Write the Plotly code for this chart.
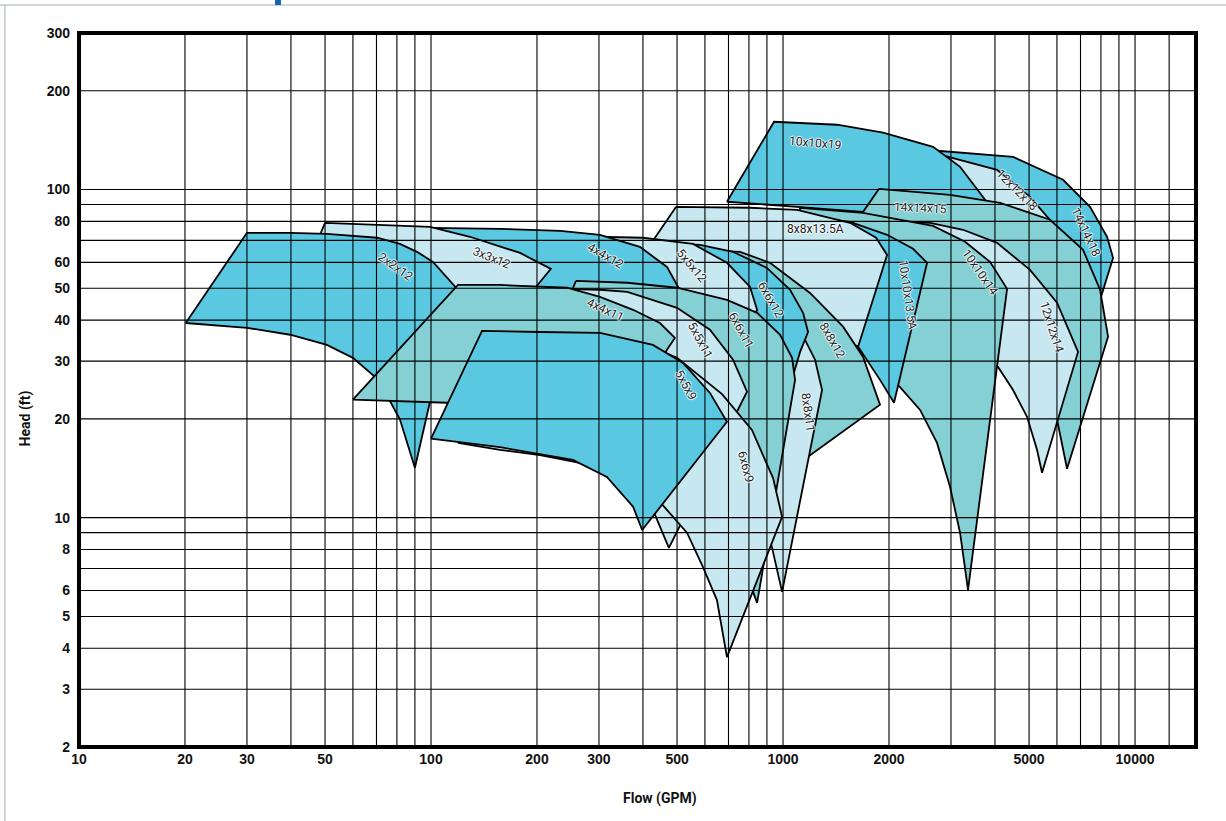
import math
import plotly.graph_objects as go

BLUE = "#5ac8e1"
LIGHT = "#c8e8f1"
TEAL = "#84d0d4"

# ---- pump operating envelopes (flow GPM, head ft), listed back to front ----
q_14x14x18 = [2532, 4503, 6244, 7450, 8328, 8661, 7955, 7211, 4136, 2150]
h_14x14x18 = [132.2, 125.8, 107.1, 88.6, 71.8, 61.9, 46.1, 34.8, 46.1, 80.9]

q_12x12x18 = [2532, 4055, 5031, 5735, 6410, 6843, 5372, 2982]
h_12x12x18 = [131.3, 114.8, 95.0, 80.9, 70.3, 61.9, 37.4, 56.9]

q_10x10x19 = [693, 943, 1424, 1924, 2668, 3184, 3749, 4136, 2982, 1688, 1096]
h_10x10x19 = [91.8, 160.9, 157.6, 149, 135, 117.3, 93.1, 75.4, 76.4, 85.5, 88.6]

q_14x14x15 = [1874, 2982, 4136, 5735, 7117, 7955, 8383, 6410, 6004, 5372, 4416, 3184, 2150, 1655, 1688]
h_14x14x15 = [100.5, 96.4, 91.1, 80.9, 65.5, 49.5, 35.6, 14.1, 19.9, 25.4, 33.6, 44.5, 61.1, 70.3, 85.5]

q_12x12x14 = [1886, 2616, 3246, 4055, 5031, 6004, 6888, 5443, 5267, 4934, 4503, 4082, 3184, 2150]
h_12x12x14 = [79.7, 79.2, 75.4, 68.8, 56.9, 45.2, 32.0, 13.7, 16.1, 20.3, 24.5, 28.8, 34.8, 46.1]

q_10x10x14 = [1118, 1688, 2668, 3289, 3873, 4330, 3354, 3184, 2982, 2738, 2451, 2150, 1886, 1688, 1360, 1047]
h_10x10x14 = [88.0, 84.9, 77.5, 69.3, 60.2, 49.8, 6.02, 8.98, 12.4, 16.9, 21.3, 25.0, 28.6, 31.8, 40.1, 53.1]

q_10x10x135A = [1047, 1550, 1975, 2341, 2566, 2067, 1886, 1732, 1623, 1360, 1047]
h_10x10x135A = [83.8, 79.7, 72.8, 66.0, 59.8, 22.4, 26.3, 30.3, 33.6, 40.1, 49.5]

q_8x8x135A = [497, 806, 1096, 1550, 1838, 1975, 1634, 1452, 1118, 860, 581, 419]
h_8x8x135A = [88.6, 88.0, 86.7, 79.2, 71.3, 63.2, 33.2, 35.3, 46.1, 53.1, 60.2, 67.8]

q_8x8x12 = [581, 755, 918, 1193, 1481, 1688, 1886, 1178, 1047, 918, 755, 581, 510]
h_8x8x12 = [65.5, 64.6, 59.8, 48.4, 38.2, 30.9, 22.1, 15.3, 14.0, 17.3, 26.3, 40.1, 46.1]

q_8x8x11 = [544, 806, 1013, 1155, 1233, 1291, 994, 931, 860, 755, 620, 510, 447]
h_8x8x11 = [56.9, 49.5, 40.6, 34.8, 30.3, 24.5, 5.94, 8.09, 10.9, 15.0, 21.3, 30.3, 40.1]

q_6x6x12 = [392, 581, 721, 900, 1047, 1140, 1178, 1118, 981, 755, 581, 447]
h_6x6x12 = [69.3, 67.8, 64.6, 57.7, 49.5, 42.1, 36.8, 32.0, 19.9, 30.3, 40.1, 51.2]

q_5x5x12 = [292, 400, 555, 693, 806, 844, 581, 419, 302]
h_5x5x12 = [71.8, 71.3, 68.3, 59.8, 50.5, 43.0, 19.9, 34.8, 46.1]

q_4x4x12 = [99.4, 157, 233, 302, 392, 468, 500, 530, 392, 233, 138, 99.4, 91.9]
h_4x4x12 = [76.4, 75.9, 74.8, 72.8, 66.9, 58.1, 51.2, 45.5, 19.9, 29.2, 37.4, 44.5, 65.5]

q_3x3x12 = [50.0, 70.3, 99.4, 129, 179, 219, 200, 173, 113, 81.6, 51.6, 47.7]
h_3x3x12 = [79.2, 78.1, 77.0, 71.8, 64.1, 57.3, 50.9, 41.5, 45.5, 51.2, 63.2, 70.3]

q_2x2x12 = [20.1, 30.0, 39.8, 50.6, 70.3, 81.6, 91.2, 101.3, 117.8, 90.0, 81.6, 74.0, 68.4, 60.0, 50.6, 39.8, 30.0]
h_2x2x12 = [39.2, 73.8, 73.8, 73.3, 71.3, 68.3, 64.6, 60.2, 50.2, 14.2, 19.9, 24.2, 27.2, 30.7, 33.6, 36.1, 37.9]

q_6x6x11 = [258, 361, 500, 693, 844, 981, 1061, 1082, 844, 780, 707, 581, 419, 302, 233, 252]
h_6x6x11 = [52.7, 52.0, 50.2, 46.1, 42.1, 36.1, 30.7, 26.3, 5.50, 6.93, 9.84, 14.0, 19.9, 26.3, 36.1, 49.5]

q_5x5x11 = [233, 302, 361, 500, 620, 721, 790, 474, 433, 392, 302, 204, 179]
h_5x5x11 = [49.8, 49.5, 48.8, 43.6, 37.4, 30.3, 24.2, 8.09, 10.2, 12.1, 17.3, 21.3, 30.3]

q_6x6x9 = [119.3, 157, 302, 427, 500, 671, 816, 937, 994, 693, 649, 592, 534, 456, 392, 322, 256, 204, 157]
h_6x6x9 = [16.9, 33.6, 33.6, 32.9, 30.7, 23.8, 18.5, 13.2, 10.05, 3.76, 5.61, 7.08, 8.98, 10.9, 12.6, 14.0, 14.8, 15.5, 16.1]

q_4x4x11 = [60.0, 119.3, 157, 243.5, 302, 375, 447, 493, 468, 344, 179, 111]
h_4x4x11 = [22.9, 51.2, 51.2, 50.2, 47.1, 43.0, 39.2, 35.3, 32.5, 17.3, 20.6, 22.4]

q_5x5x9 = [100, 139.6, 204, 302, 427, 520, 620, 693, 398, 375, 316, 253, 157]
h_5x5x9 = [17.4, 37.1, 36.8, 36.6, 33.6, 29.6, 24.0, 19.6, 9.17, 10.8, 13.3, 15.0, 16.4]

pumps = [
    ("14x14x18", BLUE, q_14x14x18, h_14x14x18),
    ("12x12x18", LIGHT, q_12x12x18, h_12x12x18),
    ("10x10x19", BLUE, q_10x10x19, h_10x10x19),
    ("14x14x15", TEAL, q_14x14x15, h_14x14x15),
    ("12x12x14", LIGHT, q_12x12x14, h_12x12x14),
    ("10x10x14", TEAL, q_10x10x14, h_10x10x14),
    ("10x10x13.5A", BLUE, q_10x10x135A, h_10x10x135A),
    ("8x8x13.5A", LIGHT, q_8x8x135A, h_8x8x135A),
    ("8x8x12", TEAL, q_8x8x12, h_8x8x12),
    ("8x8x11", LIGHT, q_8x8x11, h_8x8x11),
    ("6x6x12", BLUE, q_6x6x12, h_6x6x12),
    ("5x5x12", LIGHT, q_5x5x12, h_5x5x12),
    ("4x4x12", BLUE, q_4x4x12, h_4x4x12),
    ("3x3x12", LIGHT, q_3x3x12, h_3x3x12),
    ("2x2x12", BLUE, q_2x2x12, h_2x2x12),
    ("6x6x11", TEAL, q_6x6x11, h_6x6x11),
    ("5x5x11", LIGHT, q_5x5x11, h_5x5x11),
    ("6x6x9", LIGHT, q_6x6x9, h_6x6x9),
    ("4x4x11", TEAL, q_4x4x11, h_4x4x11),
    ("5x5x9", BLUE, q_5x5x9, h_5x5x9),
]

# ---- curve labels: name, flow, head, angle ----
label_names = ["2x2x12", "3x3x12", "4x4x12", "4x4x11", "5x5x12", "5x5x11", "5x5x9",
               "6x6x12", "6x6x11", "6x6x9", "8x8x12", "8x8x11", "8x8x13.5A",
               "10x10x13.5A", "10x10x14", "10x10x19", "14x14x15", "12x12x18",
               "14x14x18", "12x12x14"]
label_q = [79.5, 149, 314, 314, 551, 581, 530, 924, 760, 785, 1378, 1178, 1233,
           2265, 3628, 1233, 2451, 4622, 7258, 5811]
label_h = [58.1, 61.9, 62.8, 43.0, 58.5, 34.8, 25.4, 46.1, 37.4, 14.3, 34.8, 21.0, 75.9,
           47.8, 56.1, 138.8, 88.0, 99.8, 74.3, 38.2]
label_angle = [35, 22, 30, 25, 50, 62, 62, 60, 62, 75, 60, 82, 0, 82, 55, 5, 3, 45, 65, 72]

# ---- axes ----
x_grid = [20, 30, 40, 50, 60, 70, 80, 90, 100, 200, 300, 400, 500, 600, 700, 800, 900,
          1000, 2000, 3000, 4000, 5000, 6000, 7000, 8000, 9000, 10000, 12500]
y_grid = [3, 4, 5, 6, 7, 8, 9, 10, 20, 30, 40, 50, 60, 70, 80, 90, 100, 200]
x_ticks = [10, 20, 30, 50, 100, 200, 300, 500, 1000, 2000, 5000, 10000]
y_ticks = [2, 3, 4, 5, 6, 8, 10, 20, 30, 40, 50, 60, 80, 100, 200, 300]
x_range = (10, 14900)
y_range = (2, 300)

fig = go.Figure()

for name, color, q, h in pumps:
    fig.add_trace(go.Scatter(
        x=q + [q[0]], y=h + [h[0]], mode="lines", fill="toself",
        fillcolor=color, line=dict(color="black", width=1.8),
        name=name, hoverinfo="skip", showlegend=False))

# grid lines drawn on top of the envelopes
gx, gy = [], []
for v in x_grid:
    gx += [v, v, None]
    gy += [y_range[0], y_range[1], None]
for v in y_grid:
    gx += [x_range[0], x_range[1], None]
    gy += [v, v, None]
fig.add_trace(go.Scatter(x=gx, y=gy, mode="lines",
                         line=dict(color="black", width=1.1),
                         hoverinfo="skip", showlegend=False))

halo = ("1px 0px 1px #ffffff, -1px 0px 1px #ffffff, 0px 1px 1px #ffffff, "
        "0px -1px 1px #ffffff")
annotations = []
for n, q, h, a in zip(label_names, label_q, label_h, label_angle):
    annotations.append(dict(
        x=math.log10(q), y=math.log10(h), xref="x", yref="y", text=n,
        showarrow=False, textangle=a,
        font=dict(family="Roboto", size=12, color="#222222", shadow=halo)))

annotations.append(dict(x=0.52, y=-0.087, xref="paper", yref="paper", text="Flow (GPM)",
                        showarrow=False,
                        font=dict(family="Roboto", size=14, color="#111111", weight="bold")))
annotations.append(dict(x=-0.057, y=0.46, xref="paper", yref="paper", text="Head (ft)",
                        showarrow=False, textangle=-90,
                        font=dict(family="Roboto", size=14, color="#111111", weight="bold")))

tickfont = dict(family="Liberation Sans", size=14, color="#111111", weight="bold")

fig.update_layout(
    width=1226, height=821,
    margin=dict(l=79, r=30, t=33, b=74),
    paper_bgcolor="white", plot_bgcolor="white",
    xaxis=dict(type="log", range=[math.log10(x_range[0]), math.log10(x_range[1])],
               tickvals=x_ticks, ticktext=[str(v) for v in x_ticks],
               showgrid=False, zeroline=False, showline=False, ticks="",
               tickfont=tickfont, ticklabelstandoff=2, fixedrange=True),
    yaxis=dict(type="log", range=[math.log10(y_range[0]), math.log10(y_range[1])],
               tickvals=y_ticks, ticktext=[str(v) for v in y_ticks],
               showgrid=False, zeroline=False, showline=False, ticks="",
               tickfont=tickfont, ticklabelstandoff=8, fixedrange=True),
    annotations=annotations,
    shapes=[
        dict(type="rect", xref="paper", yref="paper", x0=0, y0=0, x1=1, y1=1,
             line=dict(color="black", width=4), layer="above"),
        dict(type="line", xref="paper", yref="paper", x0=-0.075, x1=1.03,
             y0=1.0392, y1=1.0392, line=dict(color="#9fabbb", width=1)),
        dict(type="line", xref="paper", yref="paper", x0=-0.0663, x1=-0.0663,
             y0=-0.104, y1=1.0392, line=dict(color="#9fabbb", width=1)),
        dict(type="rect", xref="paper", yref="paper", x0=0.1755, x1=0.1808,
             y0=1.0392, y1=1.047, fillcolor="#1560b0", line=dict(width=0)),
    ],
)

fig.write_html("out.html",
               config={"displayModeBar": False},
               post_script="document.body.style.margin='0';document.body.style.overflow='hidden';")
